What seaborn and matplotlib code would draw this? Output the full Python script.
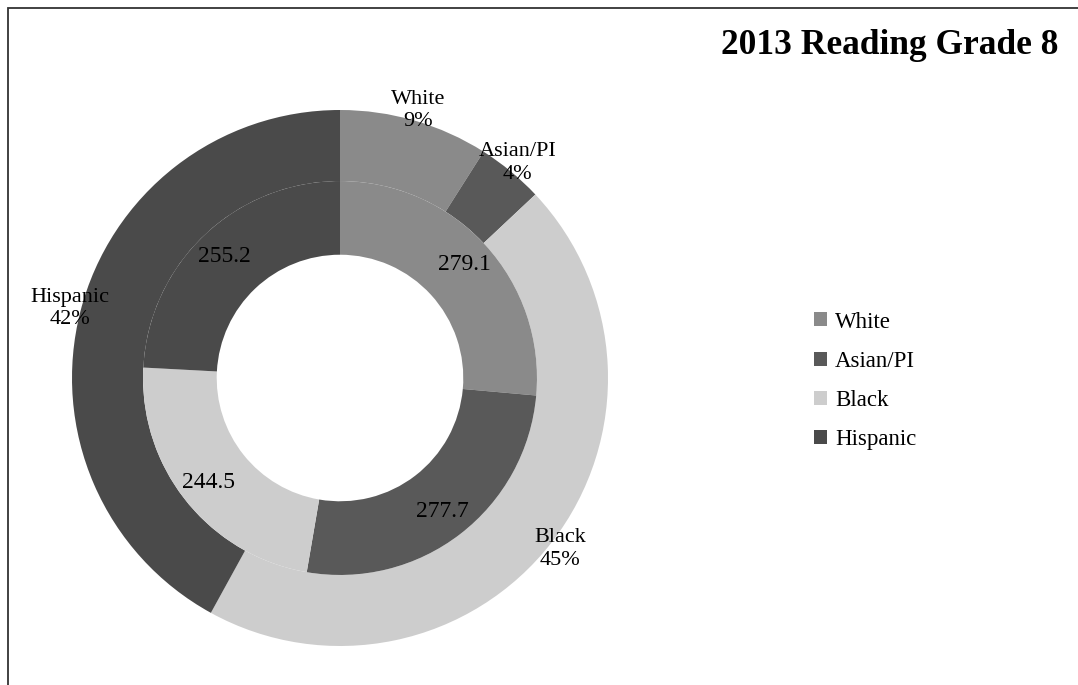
import matplotlib
matplotlib.use("Agg")
import matplotlib.pyplot as plt
from matplotlib.patches import Rectangle, Patch
import seaborn as sns

categories = ["White", "Asian/PI", "Black", "Hispanic"]
share_pct = [9, 4, 45, 42]
scores = [279.1, 277.7, 244.5, 255.2]
title = "2013 Reading Grade 8"
colors = ["#8a8a8a", "#595959", "#cdcdcd", "#4a4a4a"]

sns.set_theme(style="white")
plt.rcParams["font.family"] = ["Liberation Serif", "DejaVu Serif"]
plt.rcParams["text.color"] = "black"

W, H = 1078, 685
fig = plt.figure(figsize=(W / 100, H / 100), dpi=100)
cx, cy, R = 340, 378, 268
ax = fig.add_axes([(cx - R) / W, (H - cy - R) / H, 2 * R / W, 2 * R / H])
ax.axis("off")

r_mid = 0.735
r_hole = 0.46

outer_labels = [f"{c}\n{p}%" for c, p in zip(categories, share_pct)]
wedges_o, texts_o = ax.pie(share_pct, radius=1.0, colors=colors, startangle=90,
                           counterclock=False, labels=outer_labels, labeldistance=1.04,
                           wedgeprops=dict(width=1.0 - r_mid, edgecolor="none"),
                           textprops=dict(fontsize=16, color="black"))
for t in texts_o:
    t.set_ha("center")
    t.set_va("center")
    t.set_linespacing(1.25)

inner_labels = [f"{s:.1f}" for s in scores]
wedges_i, texts_i = ax.pie(scores, radius=r_mid, colors=colors, startangle=90,
                           counterclock=False, labels=inner_labels,
                           labeldistance=(r_mid + r_hole) / 2 / r_mid + 0.04,
                           wedgeprops=dict(width=r_mid - r_hole, edgecolor="none"),
                           textprops=dict(fontsize=17, color="black"))
for t in texts_i:
    t.set_ha("center")
    t.set_va("center")

ax.set_xlim(-1, 1)
ax.set_ylim(-1, 1)
ax.set_aspect("equal")

fig.text(1058 / W, 1 - 46 / H, title, ha="right", va="center",
         fontsize=25.5, fontweight="bold", color="black")

handles = [Patch(facecolor=c, edgecolor="none", label=l) for c, l in zip(colors, categories)]
leg = fig.legend(handles=handles, loc="center left", bbox_to_anchor=(803 / W, 1 - 381 / H),
                 frameon=False, fontsize=16.5, handlelength=0.55, handleheight=0.55,
                 handletextpad=0.35, labelspacing=0.8, borderpad=0)
for t in leg.get_texts():
    t.set_color("black")

fig.patches.append(Rectangle((8 / W, -0.05), 1.2, 1 - 8 / H + 0.05,
                             transform=fig.transFigure, fill=False,
                             edgecolor="#333333", linewidth=1.3))

fig.savefig("out.png", dpi=100, facecolor="white")
